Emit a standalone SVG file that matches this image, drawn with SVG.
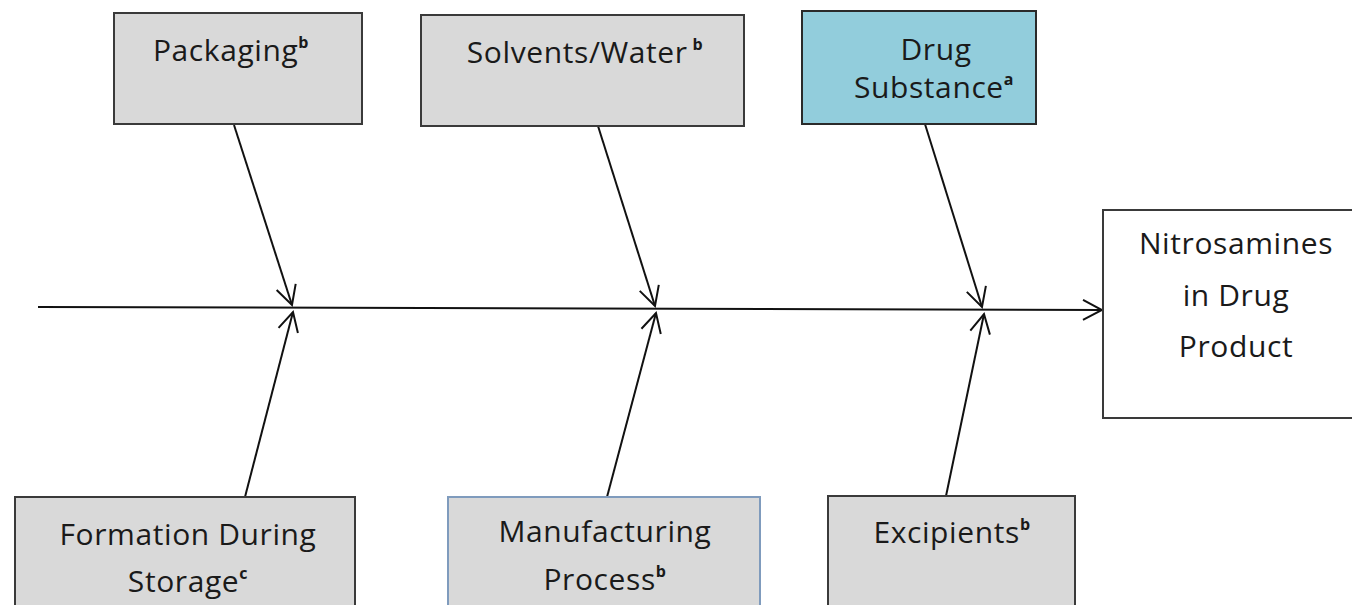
<svg xmlns="http://www.w3.org/2000/svg" width="1352" height="605" viewBox="0 0 1352 605">
<style>
.box{fill:#d9d9d9;stroke:#3a3a3a;stroke-width:2}
.ds{fill:#92cddc;stroke:#2a2a2a;stroke-width:2}
.mp{fill:#d9d9d9;stroke:#7f9bbd;stroke-width:2}
.out{fill:#ffffff;stroke:#3a3a3a;stroke-width:2}
text{font-family:"Open Sans","Liberation Sans",sans-serif;font-size:30px;letter-spacing:0.6px;fill:#1a1a1a;text-anchor:middle}
.sup{font-size:16px;font-weight:bold}
.ln{stroke:#111;stroke-width:2;fill:none}
</style>
<defs>
<marker id="ah" markerWidth="24" markerHeight="24" refX="0" refY="0" viewBox="-22 -12 24 24" orient="auto" markerUnits="userSpaceOnUse">
<path d="M-19,-10 L0,0 L-19,10" fill="none" stroke="#111" stroke-width="2"/>
</marker>
</defs>
<g id="connectors">
<line class="ln" x1="38" y1="307" x2="1102" y2="310" marker-end="url(#ah)"/>
<line class="ln" x1="234" y1="125" x2="292" y2="305" marker-end="url(#ah)"/>
<line class="ln" x1="245" y1="497" x2="293" y2="312" marker-end="url(#ah)"/>
<line class="ln" x1="598" y1="126" x2="655" y2="306" marker-end="url(#ah)"/>
<line class="ln" x1="607" y1="497" x2="656" y2="313" marker-end="url(#ah)"/>
<line class="ln" x1="925" y1="124" x2="982" y2="307" marker-end="url(#ah)"/>
<line class="ln" x1="946" y1="496" x2="984" y2="314" marker-end="url(#ah)"/>
</g>
<g id="packaging">
<rect class="box" x="114" y="13" width="248" height="111"/>
<text x="231" y="61">Packaging<tspan class="sup" dy="-13">b</tspan></text>
</g>
<g id="solvents">
<rect class="box" x="421" y="15" width="323" height="111"/>
<text x="585" y="63">Solvents/Water<tspan class="sup" dy="-13"> b</tspan></text>
</g>
<g id="drug-substance">
<rect class="ds" x="802" y="11" width="234" height="113"/>
<text x="936" y="60">Drug</text>
<text x="934" y="98">Substance<tspan class="sup" dy="-13">a</tspan></text>
</g>
<g id="nitrosamines">
<rect class="out" x="1103" y="210" width="260" height="208"/>
<text x="1236" y="254">Nitrosamines</text>
<text x="1236" y="306">in Drug</text>
<text x="1236" y="357">Product</text>
</g>
<g id="formation">
<rect class="box" x="15" y="497" width="340" height="120"/>
<text x="188" y="545">Formation During</text>
<text x="188" y="592">Storage<tspan class="sup" dy="-13">c</tspan></text>
</g>
<g id="manufacturing">
<rect class="mp" x="448" y="497" width="312" height="120"/>
<text x="605" y="542">Manufacturing</text>
<text x="605" y="590">Process<tspan class="sup" dy="-13">b</tspan></text>
</g>
<g id="excipients">
<rect class="box" x="828" y="496" width="247" height="120"/>
<text x="952" y="543">Excipients<tspan class="sup" dy="-13">b</tspan></text>
</g>
</svg>
